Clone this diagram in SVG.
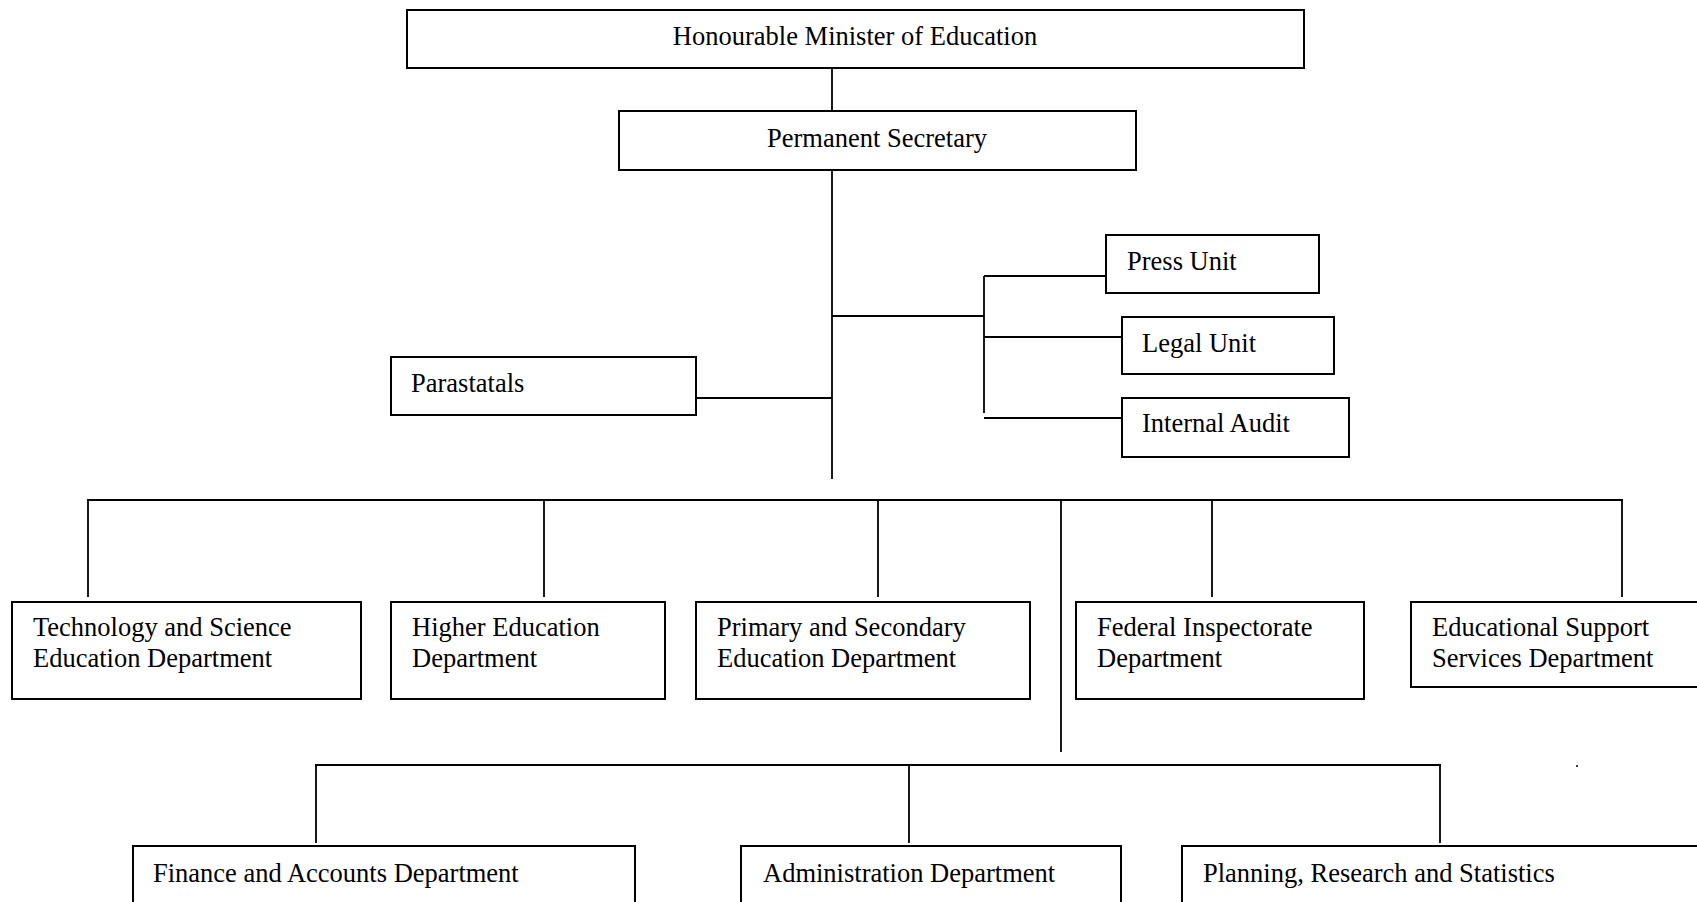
<svg xmlns="http://www.w3.org/2000/svg" width="1697" height="902" viewBox="0 0 1697 902">
<style>
.box{fill:#fff;stroke:#000;stroke-width:2}
.ln{fill:none;stroke:#000;stroke-width:1.8}
text{font-family:"Liberation Serif","Times New Roman",serif;font-size:26.5px;fill:#000}
.c{text-anchor:middle}
</style>
<rect width="1697" height="902" fill="#fff"/>
<g id="connectors">
<line class="ln" x1="832" y1="68" x2="832" y2="111"/>
<line class="ln" x1="832" y1="170" x2="832" y2="479"/>
<line class="ln" x1="832" y1="316" x2="984" y2="316"/>
<line class="ln" x1="984" y1="276" x2="984" y2="413"/>
<line class="ln" x1="984" y1="276" x2="1106" y2="276"/>
<line class="ln" x1="984" y1="337" x2="1122" y2="337"/>
<line class="ln" x1="984" y1="418" x2="1122" y2="418"/>
<line class="ln" x1="696" y1="398" x2="832" y2="398"/>
<line class="ln" x1="87" y1="500" x2="1623" y2="500"/>
<line class="ln" x1="88" y1="500" x2="88" y2="597"/>
<line class="ln" x1="544" y1="500" x2="544" y2="597"/>
<line class="ln" x1="878" y1="500" x2="878" y2="597"/>
<line class="ln" x1="1212" y1="500" x2="1212" y2="597"/>
<line class="ln" x1="1622" y1="500" x2="1622" y2="597"/>
<line class="ln" x1="1061" y1="500" x2="1061" y2="752"/>
<line class="ln" x1="315" y1="765" x2="1441" y2="765"/>
<line class="ln" x1="316" y1="765" x2="316" y2="843"/>
<line class="ln" x1="909" y1="765" x2="909" y2="843"/>
<line class="ln" x1="1440" y1="765" x2="1440" y2="843"/>
<circle cx="1577" cy="766" r="1" fill="#000"/>
</g>
<g id="minister"><rect class="box" x="407" y="10" width="897" height="58"/><text class="c" x="855" y="45">Honourable Minister of Education</text></g>
<g id="perm-sec"><rect class="box" x="619" y="111" width="517" height="59"/><text class="c" x="877" y="147">Permanent Secretary</text></g>
<g id="press-unit"><rect class="box" x="1106" y="235" width="213" height="58"/><text x="1127" y="270">Press Unit</text></g>
<g id="legal-unit"><rect class="box" x="1122" y="317" width="212" height="57"/><text x="1142" y="352">Legal Unit</text></g>
<g id="internal-audit"><rect class="box" x="1122" y="398" width="227" height="59"/><text x="1142" y="432">Internal Audit</text></g>
<g id="parastatals"><rect class="box" x="391" y="357" width="305" height="58"/><text x="411" y="392">Parastatals</text></g>
<g id="tech-sci"><rect class="box" x="12" y="602" width="349" height="97"/><text x="33" y="636">Technology and Science</text><text x="33" y="667">Education Department</text></g>
<g id="higher-ed"><rect class="box" x="391" y="602" width="274" height="97"/><text x="412" y="636">Higher Education</text><text x="412" y="667">Department</text></g>
<g id="primary-sec"><rect class="box" x="696" y="602" width="334" height="97"/><text x="717" y="636">Primary and Secondary</text><text x="717" y="667">Education Department</text></g>
<g id="federal-insp"><rect class="box" x="1076" y="602" width="288" height="97"/><text x="1097" y="636">Federal Inspectorate</text><text x="1097" y="667">Department</text></g>
<g id="edu-support"><rect class="box" x="1411" y="602" width="300" height="85"/><text x="1432" y="636">Educational Support</text><text x="1432" y="667">Services Department</text></g>
<g id="finance"><rect class="box" x="133" y="846" width="502" height="70"/><text x="153" y="882">Finance and Accounts Department</text></g>
<g id="admin"><rect class="box" x="741" y="846" width="380" height="70"/><text x="763" y="882">Administration Department</text></g>
<g id="planning"><rect class="box" x="1182" y="846" width="530" height="70"/><text x="1203" y="882">Planning, Research and Statistics</text></g>
</svg>
